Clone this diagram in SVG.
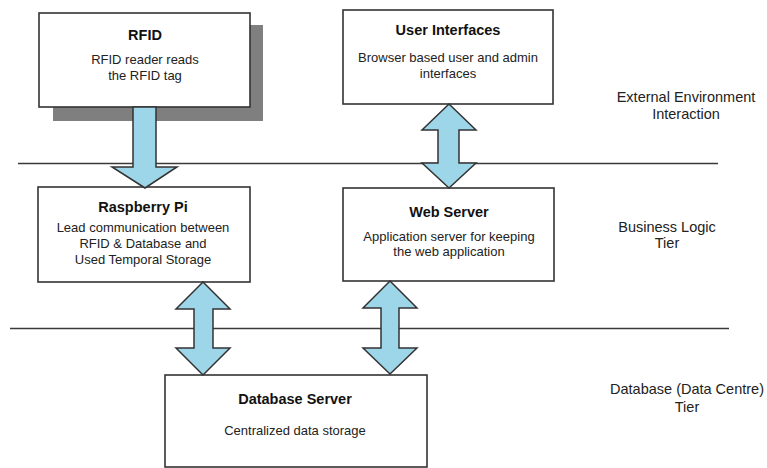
<svg xmlns="http://www.w3.org/2000/svg" width="767" height="468" viewBox="0 0 767 468">
<style>
.box{fill:#fff;stroke:#333;stroke-width:1.6}
.tier{stroke:#3a3a3a;stroke-width:1.6;fill:none}
.arrow{fill:#9dd6e8;stroke:#333;stroke-width:1.5;stroke-linejoin:miter}
.title{font-family:"Liberation Sans",Arial,sans-serif;font-weight:bold;font-size:14.5px;fill:#111;text-anchor:middle}
.body{font-family:"Liberation Sans",Arial,sans-serif;font-size:13px;fill:#222;text-anchor:middle}
.side{font-family:"Liberation Sans",Arial,sans-serif;font-size:14.5px;fill:#222;text-anchor:middle}
</style>
<rect width="767" height="468" fill="#fff"/>
<g id="tiers">
<line class="tier" x1="18" y1="163.5" x2="718" y2="163.5"/>
<line class="tier" x1="10" y1="328.5" x2="729" y2="328.5"/>
</g>
<g id="tier-labels">
<text class="side" x="686" y="102">External Environment</text>
<text class="side" x="686" y="119">Interaction</text>
<text class="side" x="667" y="232">Business Logic</text>
<text class="side" x="667" y="248">Tier</text>
<text class="side" x="687" y="394">Database (Data Centre)</text>
<text class="side" x="687" y="412">Tier</text>
</g>
<g id="rfid">
<rect x="53" y="25" width="210" height="96" fill="#7f7f7f"/>
<rect class="box" x="39" y="13" width="211" height="94"/>
<text class="title" x="145" y="40">RFID</text>
<text class="body" x="145" y="64">RFID reader reads</text>
<text class="body" x="145" y="80">the RFID tag</text>
</g>
<g id="user-interfaces">
<rect class="box" x="343" y="10" width="210" height="94"/>
<text class="title" x="448" y="35">User Interfaces</text>
<text class="body" x="448" y="62">Browser based user and admin</text>
<text class="body" x="448" y="78">interfaces</text>
</g>
<g id="raspberry-pi">
<rect class="box" x="38" y="187" width="212" height="95"/>
<text class="title" x="143" y="212">Raspberry Pi</text>
<text class="body" x="143" y="232">Lead communication between</text>
<text class="body" x="143" y="248">RFID &amp; Database and</text>
<text class="body" x="143" y="264">Used Temporal Storage</text>
</g>
<g id="web-server">
<rect class="box" x="343" y="188" width="211" height="93"/>
<text class="title" x="449" y="217">Web Server</text>
<text class="body" x="449" y="241">Application server for keeping</text>
<text class="body" x="449" y="256">the web application</text>
</g>
<g id="database-server">
<rect class="box" x="165" y="375" width="262" height="92"/>
<text class="title" x="295" y="404">Database Server</text>
<text class="body" x="295" y="435">Centralized data storage</text>
</g>
<g id="connectors">
<polygon class="arrow" points="133,107 156,107 156,167 177,167 145,188 112,167 133,167"/>
<polygon class="arrow" points="449,104 476,130 459,130 459,163 476,163 449,188 422,163 438,163 438,130 422,130"/>
<polygon class="arrow" points="203,282 230,309 213,309 213,348 230,348 203,375 176,348 194,348 194,309 176,309"/>
<polygon class="arrow" points="390,281 417,308 399,308 399,348 417,348 390,374 363,348 381,348 381,308 363,308"/>
</g>
</svg>
